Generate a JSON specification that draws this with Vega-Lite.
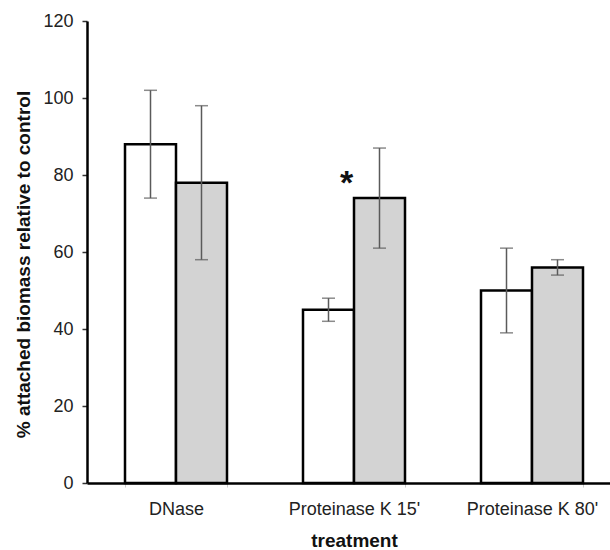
{
  "$schema": "https://vega.github.io/schema/vega-lite/v6.json",
  "autosize": "none",
  "width": 523,
  "height": 462,
  "padding": {"left": 87, "top": 21, "right": 0, "bottom": 67},
  "background": "white",
  "config": {
    "view": {"stroke": null},
    "font": "Liberation Sans"
  },
  "datasets": {
    "bars": [
      {"treatment": "DNase", "group": "a", "value": 88, "lo": 74, "hi": 102},
      {"treatment": "DNase", "group": "b", "value": 78, "lo": 58, "hi": 98},
      {"treatment": "Proteinase K 15'", "group": "a", "value": 45, "lo": 42, "hi": 48},
      {"treatment": "Proteinase K 15'", "group": "b", "value": 74, "lo": 61, "hi": 87},
      {"treatment": "Proteinase K 80'", "group": "a", "value": 50, "lo": 39, "hi": 61},
      {"treatment": "Proteinase K 80'", "group": "b", "value": 56, "lo": 54, "hi": 58}
    ],
    "marks": [
      {"treatment": "Proteinase K 15'", "group": "b", "label": "*", "y": 79}
    ]
  },
  "layer": [
    {
      "data": {"name": "bars"},
      "mark": {"type": "bar", "stroke": "black", "strokeWidth": 2.5},
      "encoding": {
        "x": {
          "field": "treatment", "type": "nominal",
          "sort": ["DNase", "Proteinase K 15'", "Proteinase K 80'"],
          "scale": {"range": [0, 534], "paddingInner": 0.427, "paddingOuter": 0.2135},
          "axis": {
            "title": "treatment",
            "titleFontSize": 19, "titleFontWeight": "bold", "titleColor": "#111",
            "titleX": 267, "titleY": 57, "titleBaseline": "middle", "titleAnchor": "middle",
            "labelAngle": 0, "labelFontSize": 18, "labelColor": "#222", "labelPadding": 13,
            "tickBand": "extent", "tickSize": 4, "tickColor": "#cccccc", "tickWidth": 1,
            "domainColor": "black", "domainWidth": 2.5, "grid": false
          }
        },
        "xOffset": {"field": "group", "type": "nominal", "scale": {"paddingInner": 0, "paddingOuter": 0}},
        "y": {
          "field": "value", "type": "quantitative",
          "scale": {"domain": [0, 120], "nice": false},
          "axis": {
            "title": "% attached biomass relative to control",
            "titleFontSize": 19, "titleFontWeight": "bold", "titleColor": "#111",
            "titleX": -64, "titleY": 243, "titleAngle": -90, "titleBaseline": "middle", "titleAnchor": "middle",
            "values": [0, 20, 40, 60, 80, 100, 120],
            "labelFontSize": 18, "labelColor": "#222", "labelPadding": 9,
            "tickSize": 5, "tickColor": "#333", "tickWidth": 1.5,
            "domainColor": "black", "domainWidth": 2.5, "grid": false
          }
        },
        "fill": {"field": "group", "type": "nominal", "scale": {"domain": ["a", "b"], "range": ["white", "#d3d3d3"]}, "legend": null}
      }
    },
    {
      "data": {"name": "bars"},
      "mark": {"type": "rule", "color": "#5a5a5a", "strokeWidth": 1.5},
      "encoding": {
        "x": {"field": "treatment", "type": "nominal", "sort": ["DNase", "Proteinase K 15'", "Proteinase K 80'"]},
        "xOffset": {"field": "group", "type": "nominal"},
        "y": {"field": "lo", "type": "quantitative"},
        "y2": {"field": "hi"}
      }
    },
    {
      "data": {"name": "bars"},
      "mark": {"type": "tick", "color": "#5a5a5a", "thickness": 1.5, "size": 13},
      "encoding": {
        "x": {"field": "treatment", "type": "nominal", "sort": ["DNase", "Proteinase K 15'", "Proteinase K 80'"]},
        "xOffset": {"field": "group", "type": "nominal"},
        "y": {"field": "lo", "type": "quantitative"}
      }
    },
    {
      "data": {"name": "bars"},
      "mark": {"type": "tick", "color": "#5a5a5a", "thickness": 1.5, "size": 13},
      "encoding": {
        "x": {"field": "treatment", "type": "nominal", "sort": ["DNase", "Proteinase K 15'", "Proteinase K 80'"]},
        "xOffset": {"field": "group", "type": "nominal"},
        "y": {"field": "hi", "type": "quantitative"}
      }
    },
    {
      "data": {"name": "marks"},
      "mark": {"type": "text", "fontSize": 34, "fontWeight": "bold", "color": "#111", "dx": -33, "dy": 5, "baseline": "middle"},
      "encoding": {
        "x": {"field": "treatment", "type": "nominal", "sort": ["DNase", "Proteinase K 15'", "Proteinase K 80'"]},
        "xOffset": {"field": "group", "type": "nominal"},
        "y": {"field": "y", "type": "quantitative"},
        "text": {"field": "label"}
      }
    },
    {
      "mark": {"type": "rule", "color": "black", "strokeWidth": 2.5},
      "encoding": {"y": {"datum": 120}}
    }
  ]
}
